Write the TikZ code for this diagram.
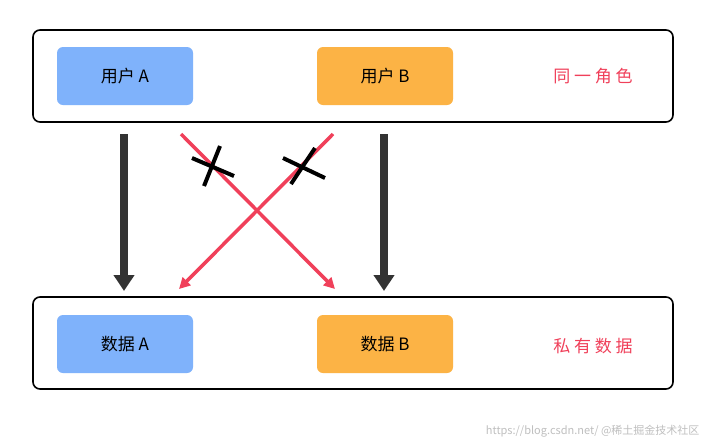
\documentclass[tikz,border=0pt]{standalone}
\usepackage{fontspec}
\setmainfont{Noto Sans CJK SC}
\usetikzlibrary{arrows.meta,calc}
\definecolor{bl}{HTML}{7FB2FB}
\definecolor{or}{HTML}{FCB345}
\definecolor{rd}{HTML}{F0405A}
\definecolor{dk}{HTML}{333333}
\tikzset{
 frame/.style={draw=black,line width=1.6pt,rounded corners=7pt,minimum width=640pt,minimum height=92pt},
 card/.style={rounded corners=6pt,minimum width=136pt,minimum height=58pt,font=\fontsize{17}{20}\selectfont},
 lab/.style={text=rd,font=\fontsize{17}{20}\selectfont},
 darr/.style={dk,line width=8pt,-{Triangle[width=20pt,length=16pt]}},
 rarr/.style={rd,line width=3.5pt,-{Triangle[width=11pt,length=11pt]}},
 xmark/.style={black,line width=4pt}
}
\begin{document}
\begin{tikzpicture}[x=1pt,y=-1pt]
\useasboundingbox[fill=white] (0,0) rectangle (708,445);
\node[frame] (top) at (353,76) {};
\node[frame] (bot) at (353,343) {};
\node[card,fill=bl] (ua) at (125,76) {用户 A};
\node[card,fill=or] (ub) at (385,76) {用户 B};
\node[lab] (l1) at (593,76) {同 一 角 色};
\node[card,fill=bl] (da) at (125,344) {数据 A};
\node[card,fill=or] (db) at (385,344) {数据 B};
\node[lab] (l2) at (593,346) {私 有 数 据};
\coordinate (a1) at (124,134); \coordinate (a2) at (124,291);
\coordinate (b1) at (384,134); \coordinate (b2) at (384,291);
\draw[darr] (a1) -- (a2);
\draw[darr] (b1) -- (b2);
\coordinate (r1) at (181,134); \coordinate (r2) at (335,289);
\coordinate (s1) at (333,134); \coordinate (s2) at (179,289);
\draw[rarr] (r1) -- (r2);
\draw[rarr] (s1) -- (s2);
\coordinate (x1) at (212,166); \coordinate (x2) at (303,166);
\draw[xmark] ($(x1)+(-8,20)$) -- ($(x1)+(8,-20)$);
\draw[xmark] ($(x1)+(-20,-8)$) -- ($(x1)+(22,10)$);
\draw[xmark] ($(x2)+(-12,18)$) -- ($(x2)+(12,-18)$);
\draw[xmark] ($(x2)+(-20,-8)$) -- ($(x2)+(22,12)$);
\node[text=black!25,font=\fontsize{11}{13}\selectfont,anchor=east] (wm) at (703,431) {https://blog.csdn.net/ @稀土掘金技术社区};
\end{tikzpicture}
\end{document}
